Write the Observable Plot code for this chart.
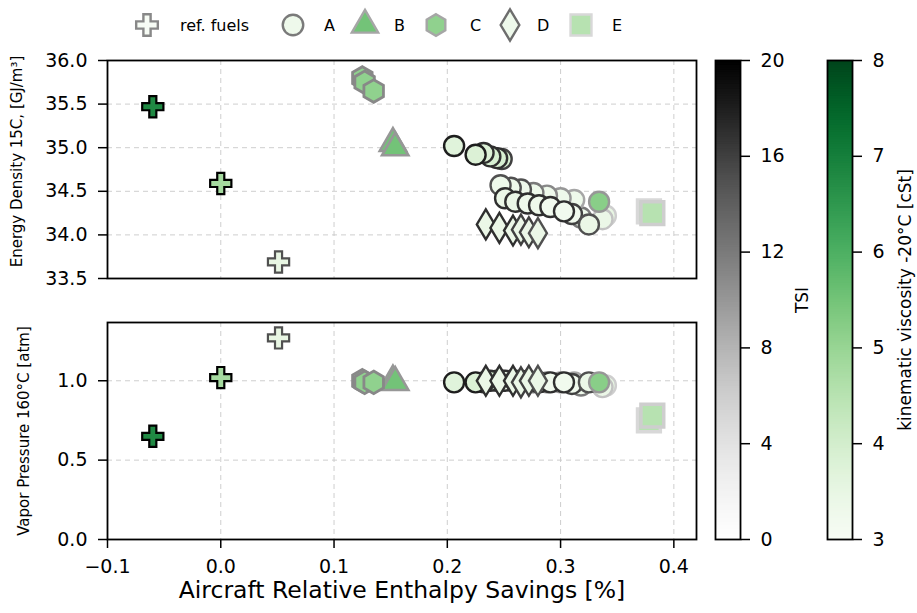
<!DOCTYPE html>
<html>
<head>
<meta charset="utf-8">
<script src="https://cdn.jsdelivr.net/npm/d3@7"></script>
<script src="https://cdn.jsdelivr.net/npm/@observablehq/plot@0.6"></script>
<style>
  body { margin: 0; background: #fff; font-family: "DejaVu Sans", sans-serif; }
  #wrap { position: relative; width: 917px; height: 613px; overflow: hidden; background: #fff; }
  #wrap > svg { position: absolute; }
</style>
</head>
<body>
<div id="wrap"></div>
<script>
// ---------------- data ----------------
// columns: relative enthalpy savings, energy density 15C, vapor pressure 160C, viscosity -20C, TSI
const refFuels = [
  [-0.060, 35.47, 0.65, 6.8, 20],
  [ 0.000, 34.59, 1.02, 4.8, 20],
  [ 0.051, 33.69, 1.27, 3.5, 15]
];
const fuelsA = [
  [0.340, 34.22, 0.97, 3.5, 6],
  [0.337, 34.18, 0.96, 3.4, 7],
  [0.318, 34.20, 0.97, 3.3, 12],
  [0.312, 34.40, 0.99, 3.3, 9],
  [0.300, 34.42, 0.99, 3.3, 10],
  [0.288, 34.45, 0.99, 3.3, 11],
  [0.276, 34.48, 0.99, 3.3, 12],
  [0.265, 34.52, 1.00, 3.3, 15],
  [0.256, 34.54, 1.00, 3.3, 15],
  [0.247, 34.57, 1.00, 3.3, 15],
  [0.248, 34.87, 1.00, 3.9, 16],
  [0.244, 34.88, 1.00, 3.9, 17],
  [0.238, 34.90, 1.00, 3.9, 17],
  [0.232, 34.94, 0.99, 3.8, 17],
  [0.225, 34.92, 0.99, 3.8, 18],
  [0.206, 35.02, 0.99, 3.7, 18],
  [0.251, 34.42, 1.00, 3.4, 17],
  [0.260, 34.38, 1.00, 3.4, 17],
  [0.271, 34.36, 1.00, 3.3, 17],
  [0.281, 34.34, 0.99, 3.3, 17],
  [0.291, 34.32, 0.99, 3.2, 17],
  [0.310, 34.24, 0.98, 3.2, 16],
  [0.303, 34.27, 0.99, 3.2, 17],
  [0.325, 34.12, 0.99, 3.4, 15],
  [0.334, 34.38, 0.99, 5.2, 10]
];
const fuelsB = [
  [0.152, 35.05, 1.00, 5.5, 10],
  [0.154, 35.00, 0.99, 5.5, 10]
];
const fuelsC = [
  [0.125, 35.80, 1.00, 5.1, 11],
  [0.127, 35.75, 0.99, 5.1, 11],
  [0.135, 35.65, 0.99, 5.1, 11]
];
const fuelsD = [
  [0.234, 34.12, 1.00, 3.4, 17],
  [0.246, 34.08, 1.00, 3.4, 17],
  [0.258, 34.05, 1.00, 3.4, 17],
  [0.265, 34.06, 0.99, 3.4, 16],
  [0.272, 34.03, 1.00, 3.4, 16],
  [0.280, 34.02, 1.00, 3.4, 15]
];
const fuelsE = [
  [0.378, 34.27, 0.75, 4.5, 5],
  [0.381, 34.25, 0.78, 4.5, 6]
];
const groupNames = ["ref. fuels", "A", "B", "C", "D", "E"];
const xTicks = [-0.1, 0.0, 0.1, 0.2, 0.3, 0.4];
const energyTicks = [33.5, 34.0, 34.5, 35.0, 35.5, 36.0];
const vaporTicks = [0.0, 0.5, 1.0];
const tsiTicks = [0, 4, 8, 12, 16, 20];
const viscTicks = [3, 4, 5, 6, 7, 8];
// legend representative colours (viscosity, TSI) per group
const legendVisc = [3.0, 3.3, 5.5, 5.1, 3.3, 4.5];
const legendTsi  = [11, 12, 9, 9, 13, 5];

// ---------------- helpers ----------------
const toRows = a => a.map(([x, ed, vp, visc, tsi]) => ({x, ed, vp, visc, tsi}));
const greysFn = d3.scaleSequential(d3.interpolateGreys).domain([0, 20]);
const greensFn = d3.scaleSequential(d3.interpolateGreens).domain([3, 8]);

const hexagon = {draw(ctx, size) {
  const R = Math.sqrt(size / (1.5 * Math.sqrt(3)));
  for (let i = 0; i < 6; i++) {
    const a = -Math.PI / 2 + i * Math.PI / 3;
    const px = R * Math.cos(a), py = R * Math.sin(a);
    if (i) ctx.lineTo(px, py); else ctx.moveTo(px, py);
  }
  ctx.closePath();
}};
const thinDiamond = {draw(ctx, size) {
  const h = Math.sqrt(size / 0.3) / 2, w = 0.6 * h;
  ctx.moveTo(0, -h); ctx.lineTo(w, 0); ctx.lineTo(0, h); ctx.lineTo(-w, 0); ctx.closePath();
}};
const rFor = size => Math.sqrt(size / Math.PI);

const groups = [
  {rows: toRows(refFuels), symbol: d3.symbolCross, size: 250, sw: 2.2},
  {rows: toRows(fuelsA), symbol: "circle", r: 10, sw: 2.4},
  {rows: toRows(fuelsB), symbol: d3.symbolTriangle, size: 300, sw: 2.6},
  {rows: toRows(fuelsC), symbol: hexagon, size: 330, sw: 2.8},
  {rows: toRows(fuelsD), symbol: thinDiamond, size: 270, sw: 2.4},
  {rows: toRows(fuelsE), symbol: d3.symbolSquare, size: 520, sw: 3.5}
];

const fontFam = "DejaVu Sans, sans-serif";
const baseStyle = {fontFamily: fontFam, fontSize: "19px", color: "black", background: "transparent", overflow: "visible"};
const gridStyle = {stroke: "#c8c8c8", strokeOpacity: 1, strokeDasharray: "5,4", strokeWidth: 0.9};

const dots = key => groups.map(g => Plot.dot(g.rows, {
  x: "x", y: key, symbol: g.symbol,
  r: g.r ?? rFor(g.size),
  fill: "visc",
  stroke: {value: d => greysFn(d.tsi), scale: null},
  strokeWidth: g.sw
}));

const colorOpt = {type: "linear", scheme: "greens", domain: [3, 8]};
const xDomain = [-0.1, 0.42];
const wrap = document.getElementById("wrap");

// ---------------- top panel ----------------
const topPlot = Plot.plot({
  width: 710, height: 290,
  marginLeft: 107, marginRight: 14, marginTop: 60, marginBottom: 12,
  x: {domain: xDomain, axis: null},
  y: {domain: [33.5, 36.0], axis: null},
  color: colorOpt,
  style: baseStyle,
  marks: [
    Plot.gridX(xTicks, gridStyle),
    Plot.gridY(energyTicks, gridStyle),
    ...dots("ed"),
    Plot.axisY(energyTicks, {tickFormat: d3.format(".1f"), tickSize: 9, tickPadding: 11, strokeWidth: 1.5, label: null}),
    Plot.text(["Energy Density 15C, [GJ/m³]"], {text: d => d, frameAnchor: "left", textAnchor: "middle", rotate: -90, dx: -90, dy: -8, fontSize: 15}),
    Plot.frame({stroke: "black", strokeWidth: 1.8})
  ]
});
topPlot.style.left = "0px"; topPlot.style.top = "0px";
wrap.appendChild(topPlot);

// ---------------- bottom panel ----------------
const bottomPlot = Plot.plot({
  width: 710, height: 323,
  marginLeft: 107, marginRight: 14, marginTop: 32, marginBottom: 74,
  x: {domain: xDomain, axis: null},
  y: {domain: [0, 1.367], axis: null},
  color: colorOpt,
  style: baseStyle,
  marks: [
    Plot.gridX(xTicks, gridStyle),
    Plot.gridY(vaporTicks, gridStyle),
    ...dots("vp"),
    Plot.axisY(vaporTicks, {tickFormat: d3.format(".1f"), tickSize: 9, tickPadding: 11, strokeWidth: 1.5, label: null}),
    Plot.axisX(xTicks, {tickFormat: d3.format(".1f"), tickSize: 9, tickPadding: 11, strokeWidth: 1.5, label: null}),
    Plot.text(["Vapor Pressure 160°C [atm]"], {text: d => d, frameAnchor: "left", textAnchor: "middle", rotate: -90, dx: -83, fontSize: 15}),
    Plot.text(["Aircraft Relative Enthalpy Savings [%]"], {text: d => d, frameAnchor: "bottom", dy: 58, fontSize: 23.5}),
    Plot.frame({stroke: "black", strokeWidth: 1.8})
  ]
});
bottomPlot.style.left = "0px"; bottomPlot.style.top = "290px";
wrap.appendChild(bottomPlot);

// ---------------- colorbars ----------------
function colorbar(domain, scheme, ticks, label, labelDx) {
  const [lo, hi] = domain, n = 200, step = (hi - lo) / n;
  const stops = d3.range(n).map(i => lo + i * step);
  return Plot.plot({
    width: 105, height: 613,
    marginLeft: 15, marginRight: 65, marginTop: 60, marginBottom: 74,
    x: {domain: [0, 1], axis: null},
    y: {domain, axis: null},
    color: {type: "linear", scheme, domain},
    style: baseStyle,
    marks: [
      Plot.rect(stops, {x1: () => 0, x2: () => 1, y1: d => d, y2: d => Math.min(hi, d + step * 1.6), fill: d => d + step / 2}),
      Plot.axisY(ticks, {anchor: "right", tickFormat: d3.format("d"), tickSize: 9, tickPadding: 11, strokeWidth: 1.5, label: null}),
      Plot.frame({stroke: "black", strokeWidth: 1.8}),
      Plot.text([label], {text: d => d, frameAnchor: "right", textAnchor: "middle", rotate: -90, dx: labelDx, fontSize: 17})
    ]
  });
}
const cb1 = colorbar([0, 20], "greys", tsiTicks, "TSI", 62);
cb1.style.left = "700px"; cb1.style.top = "0px";
wrap.appendChild(cb1);
const cb2 = colorbar([3, 8], "greens", viscTicks, "kinematic viscosity -20°C [cSt]", 53);
cb2.style.left = "812px"; cb2.style.top = "0px";
wrap.appendChild(cb2);

// ---------------- legend ----------------
const legendSymbols = [d3.symbolCross, d3.symbolCircle, d3.symbolTriangle, hexagon, thinDiamond, d3.symbolSquare];
const legendSizes = [260, 330, 300, 300, 290, 440];
const legendSymX = [147, 293, 365, 436, 510, 581];
const legendTextX = [180, 324, 394, 470, 537, 612];
const legend = d3.select(wrap).append("svg")
  .attr("width", 917).attr("height", 50)
  .style("left", "0px").style("top", "0px")
  .style("font-family", fontFam);
groupNames.forEach((name, i) => {
  legend.append("path")
    .attr("d", d3.symbol(legendSymbols[i], legendSizes[i])())
    .attr("transform", `translate(${legendSymX[i]},25)`)
    .attr("fill", greensFn(legendVisc[i]))
    .attr("stroke", greysFn(legendTsi[i]))
    .attr("stroke-width", 2.4);
  legend.append("text")
    .attr("x", legendTextX[i]).attr("y", 25)
    .attr("dy", "0.35em")
    .attr("font-size", 16)
    .attr("fill", "black")
    .text(name);
});
</script>
</body>
</html>
